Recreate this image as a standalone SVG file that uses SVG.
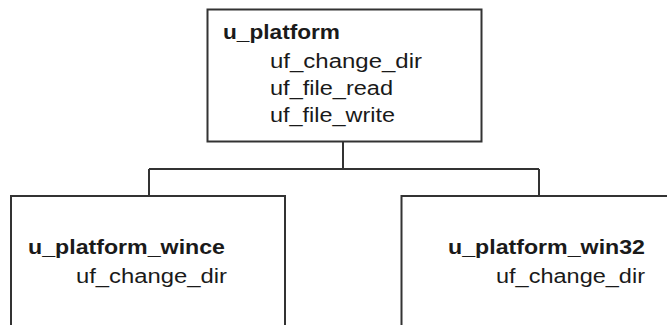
<svg xmlns="http://www.w3.org/2000/svg" width="667" height="325" viewBox="0 0 667 325">
<style>
.box{fill:#fff;stroke:#333;stroke-width:2}
.conn{fill:none;stroke:#333;stroke-width:2}
.t{font-family:"Liberation Sans",Arial,sans-serif;font-size:20px;fill:#1a1a1a}
.b{font-weight:bold}
</style>
<rect width="667" height="325" fill="#fff"/>
<g id="connectors">
<path class="conn" d="M343,141 V169 M149,169 H539 M149,169 V196 M539,169 V196"/>
</g>
<g id="u_platform">
<rect class="box" x="207.5" y="9.5" width="274" height="132"/>
<text class="t b" x="223" y="39" textLength="117" lengthAdjust="spacingAndGlyphs">u_platform</text>
<text class="t" x="270" y="68" textLength="152" lengthAdjust="spacingAndGlyphs">uf_change_dir</text>
<text class="t" x="270" y="95" textLength="123" lengthAdjust="spacingAndGlyphs">uf_file_read</text>
<text class="t" x="270" y="122" textLength="125" lengthAdjust="spacingAndGlyphs">uf_file_write</text>
</g>
<g id="u_platform_wince">
<rect class="box" x="11" y="196" width="274" height="140"/>
<text class="t b" x="28" y="254" textLength="197" lengthAdjust="spacingAndGlyphs">u_platform_wince</text>
<text class="t" x="76" y="283" textLength="151" lengthAdjust="spacingAndGlyphs">uf_change_dir</text>
</g>
<g id="u_platform_win32">
<rect class="box" x="401.5" y="196" width="280" height="140"/>
<text class="t b" x="448" y="254" textLength="197" lengthAdjust="spacingAndGlyphs">u_platform_win32</text>
<text class="t" x="496" y="283" textLength="149" lengthAdjust="spacingAndGlyphs">uf_change_dir</text>
</g>
</svg>
